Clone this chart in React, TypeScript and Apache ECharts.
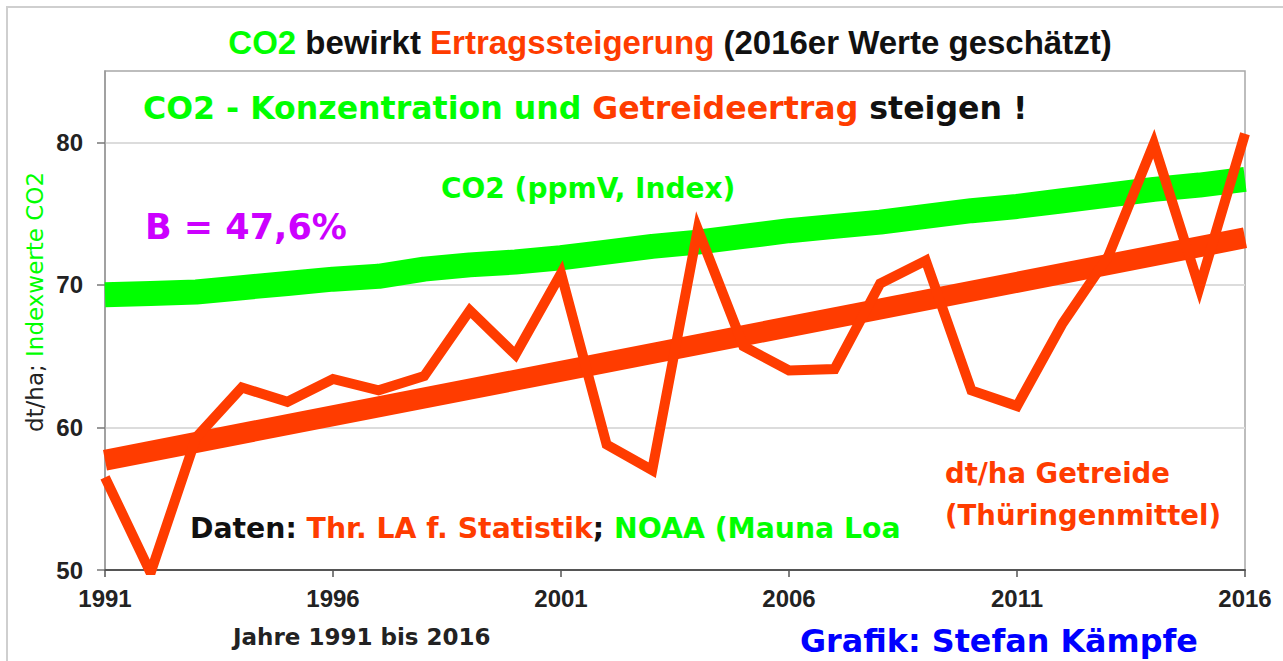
import React, { useEffect, useRef } from "react";
import * as echarts from "echarts";

const years = ["1991","1992","1993","1994","1995","1996","1997","1998","1999","2000","2001","2002","2003","2004","2005","2006","2007","2008","2009","2010","2011","2012","2013","2014","2015","2016"];
const yieldValues = [56.5, 49.8, 59.3, 62.8, 61.8, 63.4, 62.6, 63.6, 68.2, 65.1, 70.8, 58.8, 57.0, 73.9, 65.7, 64.0, 64.1, 70.1, 71.7, 62.6, 61.5, 67.3, 72.0, 79.9, 69.8, 80.6];
const co2Index = [69.3, 69.4, 69.5, 69.8, 70.1, 70.4, 70.6, 71.1, 71.4, 71.6, 71.9, 72.3, 72.7, 73.0, 73.4, 73.8, 74.1, 74.4, 74.8, 75.2, 75.5, 75.9, 76.3, 76.7, 77.0, 77.4];
const trendYears = ["1991", "2016"];
const trendValues = [57.7, 73.3];
const yTicks = [50, 60, 70, 80];

const GREEN = "#00ff00";
const RED = "#ff3c00";
const VERD = "'DejaVu Sans', Verdana, sans-serif";
const ARIAL = "'Liberation Sans', Arial, sans-serif";

export default function App() {
  const ref = useRef<HTMLDivElement>(null);
  useEffect(() => {
    if (!ref.current) return;
    const chart = echarts.init(ref.current, null, { renderer: "svg" });
    const txt = (x: number, y: number, text: string, rich: any, extra: any = {}) => ({
      type: "text",
      x,
      y,
      z: 100,
      ...extra,
      style: {
        text,
        rich,
        textAlign: extra.align || "left",
        textVerticalAlign: "middle",
      },
    });
    const vb = (fill: string, size: number) => ({ fill, fontSize: size, fontWeight: "bold", fontFamily: VERD });
    chart.setOption({
      animation: false,
      backgroundColor: "#ffffff",
      grid: {
        left: 105,
        right: 38,
        top: 71,
        bottom: 91,
        show: true,
        borderColor: "#a8a8a8",
        borderWidth: 1.5,
        backgroundColor: "transparent",
      },
      xAxis: {
        type: "category",
        data: years,
        boundaryGap: false,
        axisLine: { lineStyle: { color: "#555", width: 2 } },
        axisTick: { interval: 4, length: 7, lineStyle: { color: "#555", width: 1.5 } },
        axisLabel: { interval: 4, margin: 16, fontSize: 24, fontWeight: "bold", fontFamily: ARIAL, color: "#222" },
        splitLine: { show: false },
      },
      yAxis: {
        type: "value",
        min: 50,
        max: 85,
        interval: 10,
        axisLine: { show: true, lineStyle: { color: "#999", width: 1.5 } },
        axisTick: { show: true, length: 8, customValues: yTicks, lineStyle: { color: "#777", width: 1.5 } },
        axisLabel: { margin: 22, customValues: yTicks, fontSize: 24, fontWeight: "bold", fontFamily: ARIAL, color: "#222" },
        splitLine: { show: true, lineStyle: { color: "#dcdcdc", width: 2 } },
      },
      series: [
        {
          name: "CO2",
          type: "line",
          data: co2Index,
          symbol: "none",
          lineStyle: { color: GREEN, width: 25, cap: "butt" },
          z: 2,
        },
        {
          name: "Trend",
          type: "line",
          data: trendYears.map((y, i) => [y, trendValues[i]]),
          symbol: "none",
          lineStyle: { color: RED, width: 21, cap: "butt" },
          z: 3,
        },
        {
          name: "Getreide",
          type: "line",
          data: yieldValues,
          symbol: "none",
          lineStyle: { color: RED, width: 10, join: "miter" },
          z: 4,
        },
      ],
      graphic: [
        {
          type: "rect",
          shape: { x: 7, y: 7, width: 1300, height: 700 },
          style: { fill: "none", stroke: "#cfcfcf", lineWidth: 2 },
          z: 0,
          silent: true,
        },
        txt(670, 42, "{g|CO2}{k| bewirkt }{r|Ertragssteigerung}{k| (2016er Werte geschätzt)}", {
          g: { fill: GREEN, fontSize: 33, fontWeight: "bold", fontFamily: ARIAL },
          k: { fill: "#111", fontSize: 33, fontWeight: "bold", fontFamily: ARIAL },
          r: { fill: RED, fontSize: 33, fontWeight: "bold", fontFamily: ARIAL },
        }, { align: "center" }),
        txt(143, 108, "{g|CO2 - Konzentration und }{r|Getreideertrag}{k| steigen !}", {
          g: vb(GREEN, 31.6), r: vb(RED, 31.6), k: vb("#111", 31.6),
        }),
        txt(145, 227, "{m|B = 47,6%}", { m: vb("#cc00ff", 35) }),
        txt(441, 188, "{g|CO2 (ppmV, Index)}", { g: vb(GREEN, 28) }),
        txt(190, 528, "{k|Daten: }{r|Thr. LA f. Statistik}{k|; }{g|NOAA (Mauna Loa}", {
          k: vb("#111", 28.3), r: vb(RED, 28.3), g: vb(GREEN, 28.3),
        }),
        txt(945, 473, "{r|dt/ha Getreide}", { r: vb(RED, 27.5) }),
        txt(945, 515, "{r|(Thüringenmittel)}", { r: vb(RED, 27.5) }),
        txt(233, 637, "{k|Jahre 1991 bis 2016}", { k: vb("#222", 23) }),
        txt(800, 640, "{b|Grafik: Stefan Kämpfe}", { b: vb("#0000ff", 31.8) }),
        txt(35, 302, "{k|dt/ha; }{g|Indexwerte CO2}", {
          k: { fill: "#222", fontSize: 23, fontFamily: VERD },
          g: { fill: GREEN, fontSize: 23, fontFamily: VERD },
        }, { align: "center", rotation: Math.PI / 2 }),
      ],
    });
    return () => chart.dispose();
  }, []);
  return (
    <div
      ref={ref}
      style={{ position: "absolute", left: 0, top: 0, width: 1283, height: 661, background: "#fff" }}
    />
  );
}
